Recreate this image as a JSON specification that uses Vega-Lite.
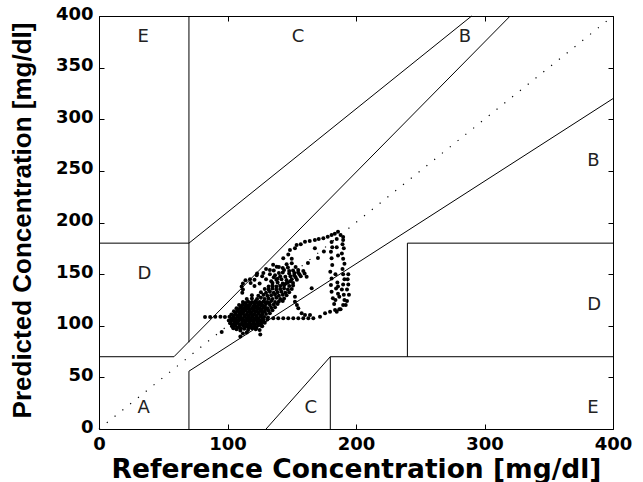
{
  "$schema": "https://vega.github.io/schema/vega-lite/v6.json",
  "width": 514,
  "height": 413,
  "autosize": {"type": "none"},
  "padding": {"left": 99, "top": 16, "right": 30, "bottom": 53},
  "background": "white",
  "config": {"view": {"stroke": "black", "strokeWidth": 1}},
  "datasets": {
    "zones": [
      {"x": 0, "y": 70, "x2": 58.33, "y2": 70},
      {"x": 58.33, "y": 70, "x2": 320, "y2": 400},
      {"x": 70, "y": 84, "x2": 70, "y2": 400},
      {"x": 0, "y": 180, "x2": 70, "y2": 180},
      {"x": 70, "y": 180, "x2": 290, "y2": 400},
      {"x": 70, "y": 0, "x2": 70, "y2": 56},
      {"x": 70, "y": 56, "x2": 400, "y2": 320},
      {"x": 180, "y": 0, "x2": 180, "y2": 70},
      {"x": 180, "y": 70, "x2": 400, "y2": 70},
      {"x": 240, "y": 70, "x2": 240, "y2": 180},
      {"x": 240, "y": 180, "x2": 400, "y2": 180},
      {"x": 130, "y": 0, "x2": 180, "y2": 70}
    ],
    "diag": [{"x": 0, "y": 0, "x2": 400, "y2": 400}],
    "labels": [
      {"x": 30, "y": 20, "label": "A"},
      {"x": 160, "y": 20, "label": "C"},
      {"x": 380, "y": 20, "label": "E"},
      {"x": 30, "y": 150, "label": "D"},
      {"x": 380, "y": 120, "label": "D"},
      {"x": 380, "y": 260, "label": "B"},
      {"x": 280, "y": 380, "label": "B"},
      {"x": 150, "y": 380, "label": "C"},
      {"x": 30, "y": 380, "label": "E"}
    ],
    "pts": [
      {"x": 82.5, "y": 108.5}, {"x": 86.5, "y": 108.5}, {"x": 90.5, "y": 108.7}, {"x": 94.5, "y": 108.6}, {"x": 98, "y": 108.4}, {"x": 101.5, "y": 108.6},
      {"x": 95.5, "y": 94}, {"x": 110, "y": 89.5}, {"x": 125, "y": 96}, {"x": 125.5, "y": 91.5}, {"x": 126.5, "y": 100}, {"x": 126.5, "y": 104},
      {"x": 107, "y": 96.5}, {"x": 110, "y": 95.5}, {"x": 113, "y": 97}, {"x": 116, "y": 96}, {"x": 119, "y": 97.5}, {"x": 122, "y": 96.5}, {"x": 112, "y": 92.5}, {"x": 115, "y": 93.5},
      {"x": 103.5, "y": 99.5}, {"x": 106, "y": 100}, {"x": 109, "y": 99}, {"x": 112, "y": 100.5}, {"x": 115, "y": 99.5}, {"x": 118, "y": 100}, {"x": 121, "y": 99}, {"x": 124, "y": 100.5}, {"x": 127, "y": 99.5},
      {"x": 102, "y": 102.5}, {"x": 105, "y": 102}, {"x": 108, "y": 103}, {"x": 111, "y": 102}, {"x": 114, "y": 102.5}, {"x": 117, "y": 103}, {"x": 120, "y": 102}, {"x": 123, "y": 103}, {"x": 126, "y": 102.5}, {"x": 129, "y": 103},
      {"x": 101, "y": 105}, {"x": 104, "y": 105.5}, {"x": 107, "y": 105}, {"x": 110, "y": 106}, {"x": 113, "y": 105}, {"x": 116, "y": 105.5}, {"x": 119, "y": 105}, {"x": 122, "y": 106}, {"x": 125, "y": 105}, {"x": 128, "y": 105.5}, {"x": 131, "y": 106},
      {"x": 104.5, "y": 108}, {"x": 107.5, "y": 108.5}, {"x": 110.5, "y": 108}, {"x": 113.5, "y": 109}, {"x": 116.5, "y": 108}, {"x": 119.5, "y": 108.5}, {"x": 122.5, "y": 108}, {"x": 125.5, "y": 109}, {"x": 128.5, "y": 108.5}, {"x": 131.5, "y": 108},
      {"x": 103, "y": 111}, {"x": 106, "y": 111.5}, {"x": 109, "y": 111}, {"x": 112, "y": 112}, {"x": 115, "y": 111}, {"x": 118, "y": 111.5}, {"x": 121, "y": 111}, {"x": 124, "y": 112}, {"x": 127, "y": 111}, {"x": 130, "y": 111.5}, {"x": 133, "y": 112},
      {"x": 105, "y": 114}, {"x": 108, "y": 114.5}, {"x": 111, "y": 114}, {"x": 114, "y": 115}, {"x": 117, "y": 114}, {"x": 120, "y": 114.5}, {"x": 123, "y": 114}, {"x": 126, "y": 115}, {"x": 129, "y": 114}, {"x": 132, "y": 114.5}, {"x": 135, "y": 115},
      {"x": 107, "y": 117}, {"x": 110, "y": 117.5}, {"x": 113, "y": 117}, {"x": 116, "y": 118}, {"x": 119, "y": 117}, {"x": 122, "y": 117.5}, {"x": 125, "y": 117}, {"x": 128, "y": 118}, {"x": 131, "y": 117}, {"x": 134, "y": 117.5}, {"x": 137, "y": 118},
      {"x": 109, "y": 120}, {"x": 112, "y": 120.5}, {"x": 115, "y": 120}, {"x": 118, "y": 121}, {"x": 121, "y": 120}, {"x": 124, "y": 120.5}, {"x": 127, "y": 120}, {"x": 130, "y": 121}, {"x": 133, "y": 120}, {"x": 136, "y": 120.5}, {"x": 139, "y": 121},
      {"x": 112, "y": 123}, {"x": 116, "y": 123.5}, {"x": 119, "y": 123}, {"x": 122, "y": 124}, {"x": 125, "y": 123}, {"x": 128, "y": 123.5}, {"x": 131, "y": 123}, {"x": 134, "y": 124}, {"x": 137, "y": 123}, {"x": 140, "y": 123.5}, {"x": 143, "y": 124},
      {"x": 115, "y": 126}, {"x": 119, "y": 126.5}, {"x": 123, "y": 126}, {"x": 126, "y": 127}, {"x": 129, "y": 126}, {"x": 132, "y": 126.5}, {"x": 135, "y": 126}, {"x": 138, "y": 127}, {"x": 141, "y": 126}, {"x": 144, "y": 126.5},
      {"x": 119, "y": 129.5}, {"x": 124, "y": 129}, {"x": 128, "y": 130}, {"x": 131, "y": 129}, {"x": 134, "y": 129.5}, {"x": 137, "y": 130}, {"x": 140, "y": 129}, {"x": 143, "y": 130}, {"x": 146, "y": 129.5},
      {"x": 111.5, "y": 132}, {"x": 126, "y": 132.5}, {"x": 130, "y": 132}, {"x": 133, "y": 133}, {"x": 136, "y": 132}, {"x": 139, "y": 132.5}, {"x": 142, "y": 133}, {"x": 145, "y": 132}, {"x": 148, "y": 132.5},
      {"x": 112, "y": 135}, {"x": 129, "y": 135.5}, {"x": 132, "y": 135}, {"x": 135, "y": 136}, {"x": 138, "y": 135}, {"x": 141, "y": 135.5}, {"x": 144, "y": 136}, {"x": 147, "y": 135}, {"x": 150, "y": 135.5},
      {"x": 111, "y": 138}, {"x": 121, "y": 138.5}, {"x": 132, "y": 138}, {"x": 135, "y": 139}, {"x": 138, "y": 138}, {"x": 141, "y": 138.5}, {"x": 144, "y": 139}, {"x": 148, "y": 138.5}, {"x": 151, "y": 139},
      {"x": 112, "y": 141}, {"x": 118, "y": 141.5}, {"x": 125, "y": 141}, {"x": 135, "y": 141.5}, {"x": 139, "y": 142}, {"x": 143, "y": 141}, {"x": 147, "y": 142}, {"x": 151, "y": 141.5},
      {"x": 114, "y": 144}, {"x": 121, "y": 144.5}, {"x": 130, "y": 145}, {"x": 138, "y": 144.5}, {"x": 142, "y": 145}, {"x": 146, "y": 144}, {"x": 150, "y": 145}, {"x": 154, "y": 144.5},
      {"x": 127, "y": 148}, {"x": 136, "y": 147}, {"x": 141, "y": 148}, {"x": 145, "y": 147.5}, {"x": 149, "y": 148}, {"x": 153, "y": 147}, {"x": 157, "y": 148},
      {"x": 123, "y": 150.5}, {"x": 133, "y": 150}, {"x": 140, "y": 151}, {"x": 148, "y": 150.5}, {"x": 152, "y": 151}, {"x": 156, "y": 150}, {"x": 160, "y": 150.5},
      {"x": 136, "y": 153.5}, {"x": 144, "y": 154}, {"x": 151, "y": 153.5}, {"x": 155, "y": 154}, {"x": 159, "y": 153},
      {"x": 130, "y": 155}, {"x": 140, "y": 157}, {"x": 147, "y": 156.5}, {"x": 153, "y": 157},
      {"x": 135.5, "y": 159}, {"x": 146, "y": 159.5}, {"x": 150, "y": 160.5},
      {"x": 104.5, "y": 97.5}, {"x": 107.5, "y": 98}, {"x": 110.5, "y": 97.5}, {"x": 113.5, "y": 98.5}, {"x": 116.5, "y": 98}, {"x": 119.5, "y": 98.5}, {"x": 122.5, "y": 98},
      {"x": 103.5, "y": 101}, {"x": 106.5, "y": 101.5}, {"x": 109.5, "y": 101}, {"x": 112.5, "y": 101.5}, {"x": 115.5, "y": 101}, {"x": 118.5, "y": 101.5}, {"x": 121.5, "y": 101}, {"x": 124.5, "y": 101.5},
      {"x": 102.5, "y": 104}, {"x": 105.5, "y": 104}, {"x": 108.5, "y": 104.5}, {"x": 111.5, "y": 104}, {"x": 114.5, "y": 104}, {"x": 117.5, "y": 104.5}, {"x": 120.5, "y": 104}, {"x": 123.5, "y": 104}, {"x": 126.5, "y": 104.5},
      {"x": 103, "y": 107}, {"x": 106, "y": 107}, {"x": 109, "y": 107.5}, {"x": 112, "y": 107}, {"x": 115, "y": 107}, {"x": 118, "y": 107.5}, {"x": 121, "y": 107}, {"x": 124, "y": 107}, {"x": 127, "y": 107.5},
      {"x": 104.5, "y": 110}, {"x": 107.5, "y": 110}, {"x": 110.5, "y": 110.5}, {"x": 113.5, "y": 110}, {"x": 116.5, "y": 110}, {"x": 119.5, "y": 110.5}, {"x": 122.5, "y": 110}, {"x": 125.5, "y": 110},
      {"x": 106.5, "y": 113}, {"x": 109.5, "y": 113}, {"x": 112.5, "y": 113.5}, {"x": 115.5, "y": 113}, {"x": 118.5, "y": 113}, {"x": 121.5, "y": 113.5}, {"x": 124.5, "y": 113}, {"x": 127.5, "y": 113},
      {"x": 108.5, "y": 116}, {"x": 111.5, "y": 116}, {"x": 114.5, "y": 116.5}, {"x": 117.5, "y": 116}, {"x": 120.5, "y": 116}, {"x": 123.5, "y": 116.5}, {"x": 126.5, "y": 116}, {"x": 129.5, "y": 116},
      {"x": 111, "y": 119}, {"x": 114, "y": 119}, {"x": 117, "y": 119.5}, {"x": 120, "y": 119}, {"x": 123, "y": 119}, {"x": 126, "y": 119.5}, {"x": 129, "y": 119},
      {"x": 114, "y": 122}, {"x": 117.5, "y": 122}, {"x": 120.5, "y": 122.5}, {"x": 123.5, "y": 122}, {"x": 126.5, "y": 122}, {"x": 129.5, "y": 122.5}, {"x": 132.5, "y": 122},
      {"x": 134, "y": 143}, {"x": 137, "y": 149}, {"x": 143, "y": 151.5}, {"x": 139, "y": 145.5}, {"x": 145.5, "y": 141}, {"x": 149, "y": 143}, {"x": 152, "y": 149}, {"x": 143, "y": 156}, {"x": 148, "y": 153}, {"x": 155, "y": 151.5},
      {"x": 117.5, "y": 145}, {"x": 122.7, "y": 149}, {"x": 127.9, "y": 151}, {"x": 133, "y": 154}, {"x": 138.3, "y": 157.2}, {"x": 143.4, "y": 165.3}, {"x": 147.3, "y": 169}, {"x": 148.6, "y": 173.4}, {"x": 152.5, "y": 175}, {"x": 150, "y": 165},
      {"x": 153.8, "y": 178.2}, {"x": 157, "y": 179}, {"x": 160.3, "y": 181.4}, {"x": 164, "y": 182}, {"x": 168, "y": 183}, {"x": 171, "y": 184}, {"x": 174.6, "y": 184.7}, {"x": 178, "y": 186.2}, {"x": 181, "y": 188}, {"x": 183.5, "y": 189}, {"x": 186, "y": 191}, {"x": 188, "y": 188}, {"x": 190, "y": 186}, {"x": 185, "y": 184},
      {"x": 181, "y": 181}, {"x": 181.5, "y": 176}, {"x": 180.5, "y": 171.7}, {"x": 181, "y": 165.3}, {"x": 181.5, "y": 158.8}, {"x": 180, "y": 152.3}, {"x": 181, "y": 145.8}, {"x": 180.5, "y": 139.5}, {"x": 181, "y": 133}, {"x": 182, "y": 126.6}, {"x": 183, "y": 121},
      {"x": 190, "y": 183}, {"x": 189.5, "y": 179}, {"x": 190.5, "y": 175}, {"x": 189, "y": 170}, {"x": 190, "y": 165}, {"x": 191, "y": 160}, {"x": 189.5, "y": 155}, {"x": 190, "y": 150}, {"x": 191, "y": 145}, {"x": 190, "y": 140}, {"x": 189, "y": 135}, {"x": 190.5, "y": 130}, {"x": 191, "y": 125}, {"x": 190, "y": 120}, {"x": 188, "y": 116},
      {"x": 185, "y": 176}, {"x": 186, "y": 168}, {"x": 184, "y": 150}, {"x": 185.5, "y": 142}, {"x": 184.5, "y": 136}, {"x": 186, "y": 131}, {"x": 184, "y": 125}, {"x": 187, "y": 128}, {"x": 186, "y": 138},
      {"x": 194, "y": 150}, {"x": 193.5, "y": 145}, {"x": 194, "y": 140}, {"x": 193, "y": 135}, {"x": 194.5, "y": 130}, {"x": 193, "y": 124}, {"x": 192, "y": 120},
      {"x": 185, "y": 113.6}, {"x": 187, "y": 116},
      {"x": 135.6, "y": 107.2}, {"x": 139.5, "y": 107.2}, {"x": 143.4, "y": 107.3}, {"x": 147.3, "y": 107.2}, {"x": 151.2, "y": 107.3}, {"x": 155.1, "y": 107.2}, {"x": 159, "y": 107.3}, {"x": 162.9, "y": 107.2}, {"x": 166.8, "y": 107.2}, {"x": 172, "y": 108.8}, {"x": 175.9, "y": 112}, {"x": 179.8, "y": 113.6}, {"x": 183.7, "y": 115.3},
      {"x": 152.5, "y": 128}, {"x": 152.5, "y": 123.3}, {"x": 154, "y": 120}, {"x": 155.1, "y": 116.9}, {"x": 157.7, "y": 112}, {"x": 160.3, "y": 110.4}, {"x": 164.2, "y": 110.4},
      {"x": 161.6, "y": 147.5}, {"x": 165.5, "y": 136.3}, {"x": 162.6, "y": 160.8}, {"x": 170.4, "y": 165.6}, {"x": 168, "y": 175}, {"x": 175, "y": 172}
    ]
  },
  "resolve": {"axis": {"x": "independent", "y": "independent"}},
  "layer": [
    {
      "data": {"name": "zones"},
      "mark": {"type": "rule", "color": "black", "strokeWidth": 1},
      "encoding": {
        "x": {"field": "x", "type": "quantitative", "scale": {"domain": [0, 400], "nice": false, "zero": false},
          "axis": {"orient": "bottom", "values": [0, 100, 200, 300, 400], "domain": false, "grid": false, "ticks": false, "labelPadding": 6,
            "labelFont": "DejaVu Sans", "labelFontWeight": "bold", "labelFontSize": 18, "labelColor": "black", "labelFlush": false, "labelOverlap": false, "labelBound": false,
            "title": "Reference Concentration [mg/dl]", "titleFont": "DejaVu Sans", "titleFontWeight": "bold", "titleFontSize": 26.5, "titleColor": "black",
            "titleX": 257, "titleY": 48, "titleBaseline": "alphabetic", "titleAlign": "center"}},
        "y": {"field": "y", "type": "quantitative", "scale": {"domain": [0, 400], "nice": false, "zero": false},
          "axis": {"orient": "left", "values": [0, 50, 100, 150, 200, 250, 300, 350, 400], "domain": false, "grid": false, "ticks": false, "labelPadding": 6, "labelOffset": -2,
            "labelFont": "DejaVu Sans", "labelFontWeight": "bold", "labelFontSize": 18, "labelColor": "black", "labelFlush": false, "labelOverlap": false, "labelBound": false,
            "title": "Predicted Concentration [mg/dl]", "titleFont": "Liberation Sans", "titleFontWeight": "bold", "titleFontSize": 26, "titleColor": "black",
            "titleX": -69, "titleY": 204, "titleAngle": -90, "titleBaseline": "alphabetic", "titleAlign": "center"}},
        "x2": {"field": "x2"},
        "y2": {"field": "y2"}
      }
    },
    {
      "data": {"name": "diag"},
      "mark": {"type": "rule", "color": "black", "strokeWidth": 1.2, "strokeDash": [1.2, 8.8]},
      "encoding": {
        "x": {"field": "x", "type": "quantitative",
          "axis": {"orient": "top", "offset": -5, "values": [0, 100, 200, 300, 400], "domain": false, "grid": false, "labels": false, "title": null, "ticks": true, "tickSize": 5, "tickWidth": 1, "tickColor": "black"}},
        "y": {"field": "y", "type": "quantitative",
          "axis": {"orient": "right", "offset": -5, "values": [0, 50, 100, 150, 200, 250, 300, 350, 400], "domain": false, "grid": false, "labels": false, "title": null, "ticks": true, "tickSize": 5, "tickWidth": 1, "tickColor": "black"}},
        "x2": {"field": "x2"},
        "y2": {"field": "y2"}
      }
    },
    {
      "data": {"name": "pts"},
      "mark": {"type": "point", "shape": "circle", "filled": true, "color": "black", "size": 16, "opacity": 1},
      "encoding": {
        "x": {"field": "x", "type": "quantitative",
          "axis": {"orient": "bottom", "offset": -5, "values": [0, 100, 200, 300, 400], "domain": false, "grid": false, "labels": false, "title": null, "ticks": true, "tickSize": 5, "tickWidth": 1, "tickColor": "black"}},
        "y": {"field": "y", "type": "quantitative",
          "axis": {"orient": "left", "offset": -5, "values": [0, 50, 100, 150, 200, 250, 300, 350, 400], "domain": false, "grid": false, "labels": false, "title": null, "ticks": true, "tickSize": 5, "tickWidth": 1, "tickColor": "black"}}
      }
    },
    {
      "data": {"name": "labels"},
      "mark": {"type": "text", "font": "DejaVu Sans", "fontSize": 18, "align": "left", "baseline": "middle", "color": "#222"},
      "encoding": {
        "x": {"field": "x", "type": "quantitative", "axis": null},
        "y": {"field": "y", "type": "quantitative", "axis": null},
        "text": {"field": "label"}
      }
    }
  ]
}
